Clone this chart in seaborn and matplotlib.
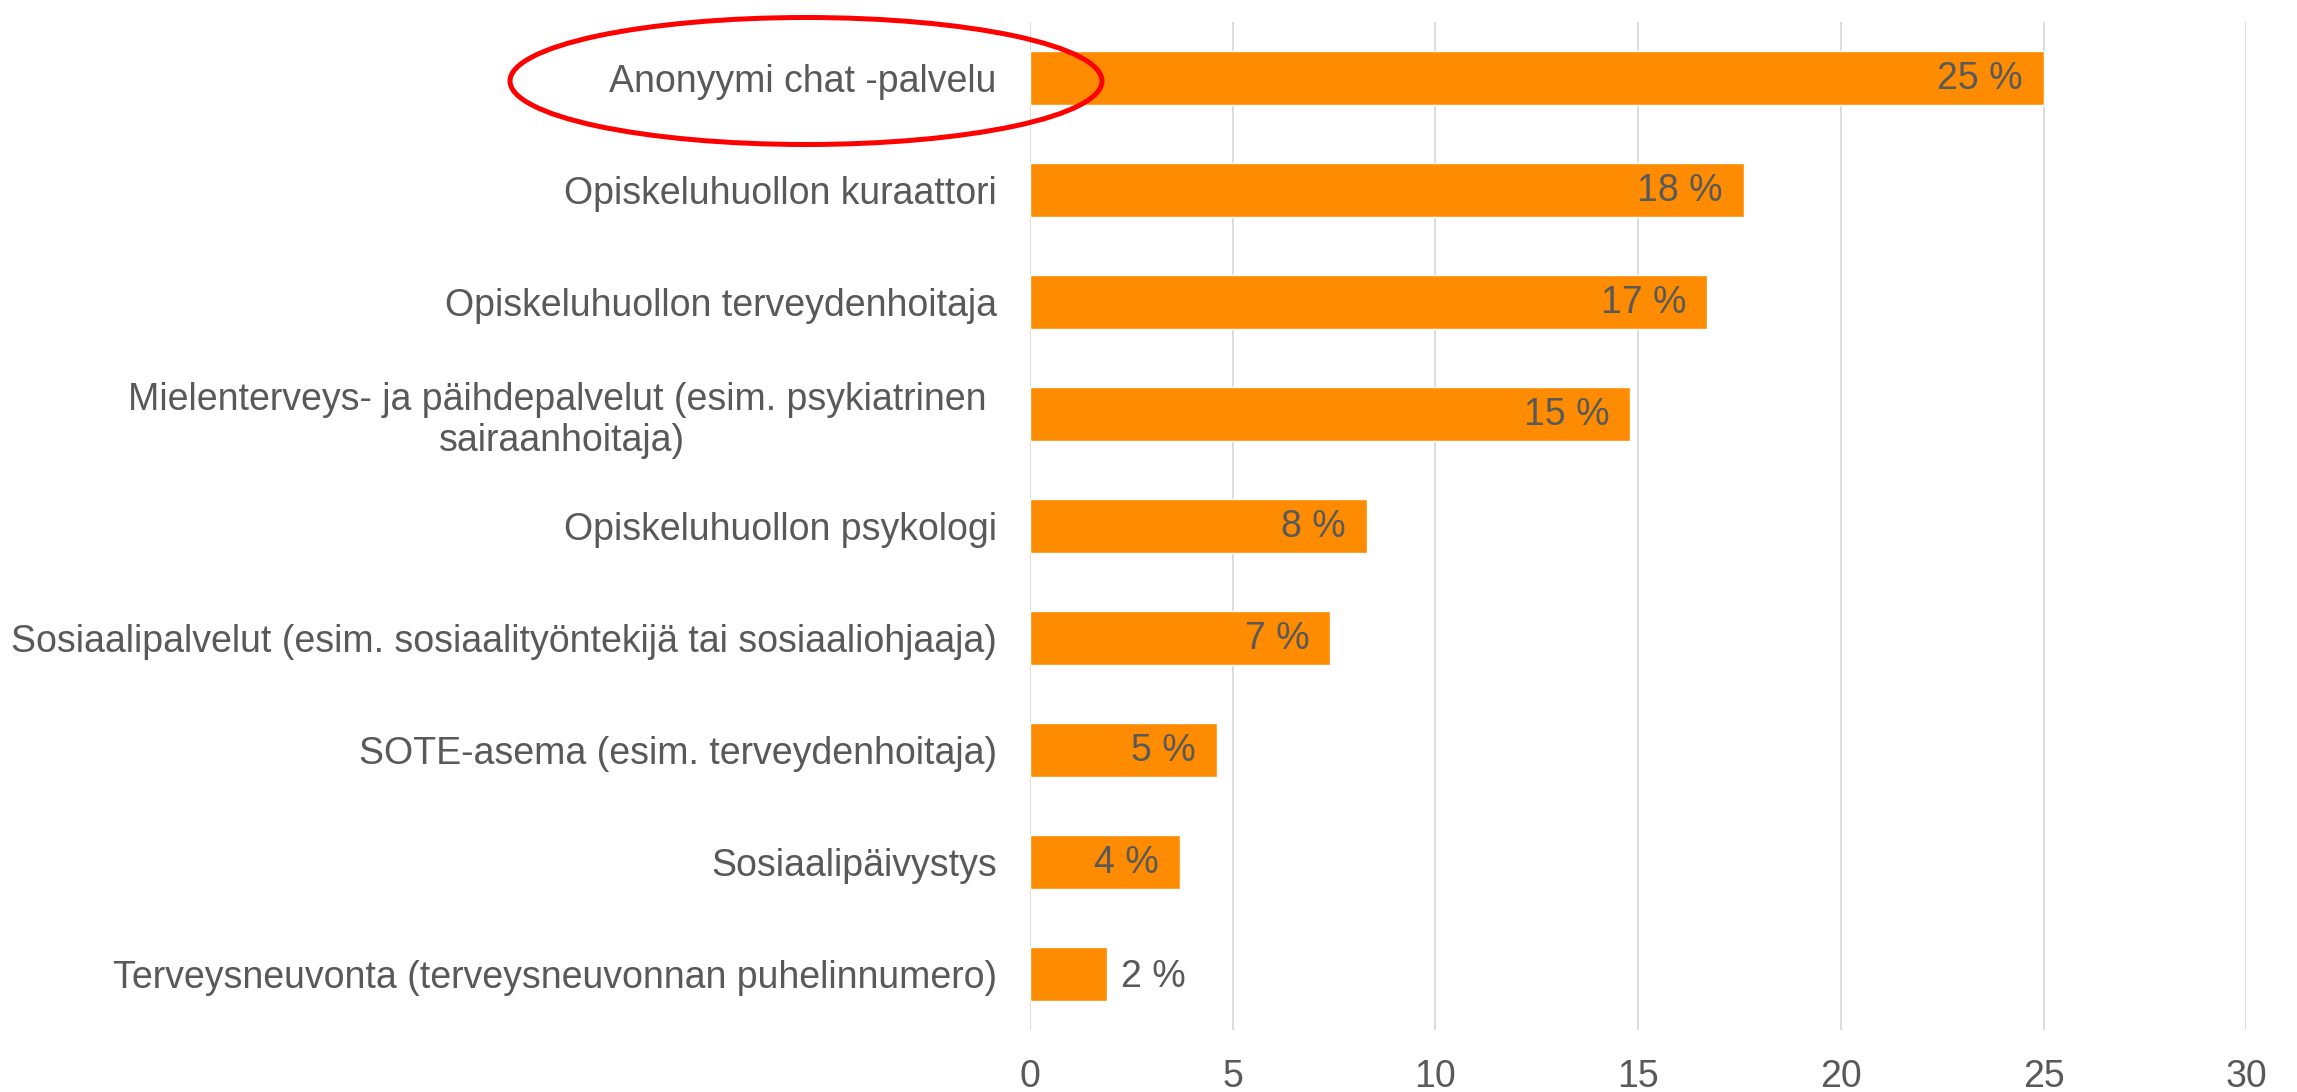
import pandas as pd
import seaborn as sns
import matplotlib.pyplot as plt
from matplotlib.patches import Ellipse

# --- DATA ---
services = [
    "Anonyymi chat -palvelu",
    "Opiskeluhuollon kuraattori",
    "Opiskeluhuollon terveydenhoitaja",
    "Mielenterveys- ja päihdepalvelut (esim. psykiatrinen \nsairaanhoitaja)",
    "Opiskeluhuollon psykologi",
    "Sosiaalipalvelut (esim. sosiaalityöntekijä tai sosiaaliohjaaja)",
    "SOTE-asema (esim. terveydenhoitaja)",
    "Sosiaalipäivystys",
    "Terveysneuvonta (terveysneuvonnan puhelinnumero)",
]
shares = [25.0, 17.6, 16.7, 14.8, 8.3, 7.4, 4.6, 3.7, 1.9]
x_ticks = [0, 5, 10, 15, 20, 25, 30]

df = pd.DataFrame({"service": services, "share": shares})

sns.set_theme(style="white")
plt.rcParams['font.family'] = ['Liberation Sans', 'DejaVu Sans']

TEXT = "#595959"
BAR = "#FF8C00"
FS = 27

fig = plt.figure(figsize=(22.97, 10.92), dpi=100)
ax = fig.add_axes([0.4484, 0.0568, 0.5296, 0.9232])

sns.barplot(data=df, x="share", y="service", orient="h", color=BAR,
            width=0.48, saturation=1, ax=ax)

ax.set_xlim(0, 30)
ax.set_ylim(len(services) - 0.5, -0.5)
ax.set_xticks(x_ticks)
ax.xaxis.grid(True, color="#d9d9d9", linewidth=1.3)
ax.set_axisbelow(True)
for s in ax.spines.values():
    s.set_visible(False)
ax.set_xlabel("")
ax.set_ylabel("")
ax.tick_params(axis="x", length=0, pad=21, labelsize=FS, labelcolor=TEXT)
ax.tick_params(axis="y", length=0, pad=24, labelsize=FS, labelcolor=TEXT)
for lab in ax.get_yticklabels():
    lab.set_multialignment("center")

# value labels: inside end, outside when the bar is short
for i, v in enumerate(shares):
    label = f"{round(v)} %"
    if v < 3:
        ax.annotate(label, (v, i), xytext=(10, -2), textcoords="offset points",
                    ha="left", va="center", fontsize=FS, color=TEXT)
    else:
        ax.annotate(label, (v, i), xytext=(-15, -1), textcoords="offset points",
                    ha="right", va="center", fontsize=FS, color=TEXT)

# red highlight ring round the first category
fig.patches.append(Ellipse((806 / 2297, 1 - 81 / 1092), 592 / 2297, 127 / 1092,
                           transform=fig.transFigure, fill=False,
                           edgecolor="#FF0000", linewidth=3.6))

plt.savefig("out.png", dpi=100)
